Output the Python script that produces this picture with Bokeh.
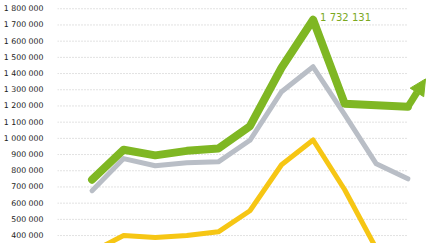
from bokeh.plotting import figure
from bokeh.models import ColumnDataSource, Range1d, FixedTicker, Arrow, NormalHead, Label
from bokeh.embed import file_html
from bokeh.resources import INLINE

# ---- data ----
periods = list(range(11))
green = [745000, 930000, 895000, 923000, 938000, 1075000, 1436000, 1732131, 1214000, 1205000, 1195000]
gray = [677000, 875000, 831000, 850000, 855000, 988000, 1288000, 1442000, 1146000, 843000, 750000]
yellow = [300000, 400000, 388000, 400000, 423000, 553000, 837000, 990000, 683000, 320000, 260000]
tick_values = [400000, 500000, 600000, 700000, 800000, 900000, 1000000, 1100000,
               1200000, 1300000, 1400000, 1500000, 1600000, 1700000, 1800000]
tick_labels = ["{:,}".format(v).replace(",", " ") for v in tick_values]
peak_label = "1 732 131"

GREEN = "#7fb723"
GRAY = "#b9bec6"
YELLOW = "#f6c614"

x_start, x_end = -1.094, 10.781
p = figure(width=432, height=243, output_backend="svg", toolbar_location=None,
           x_range=Range1d(x_start, x_end), y_range=Range1d(351000, 1851000),
           x_axis_location=None, min_border_left=52, min_border_right=0,
           min_border_top=0, min_border_bottom=0)
p.outline_line_color = None
p.xgrid.visible = False
p.ygrid.visible = False

# dotted grid lines
grid_src = ColumnDataSource(dict(x0=[x_start] * len(tick_values), x1=[9.97] * len(tick_values),
                                 y=tick_values))
p.segment(x0="x0", y0="y", x1="x1", y1="y", source=grid_src,
          line_color="#c4c4c4", line_width=1, line_dash="1 2")

src = ColumnDataSource(dict(x=periods, green=green, gray=gray, yellow=yellow))
p.line("x", "yellow", source=src, line_color=YELLOW, line_width=5, line_join="round", line_cap="round")
p.line("x", "gray", source=src, line_color=GRAY, line_width=5, line_join="round", line_cap="round")
p.line("x", "green", source=src, line_color=GREEN, line_width=8, line_join="round", line_cap="round")

# arrow continuing the green line
last = periods[-1]
p.add_layout(Arrow(x_start=last, y_start=green[-1], x_end=last + 0.56, y_end=green[-1] + 172000,
                   line_color=GREEN, line_width=7,
                   end=NormalHead(size=16, fill_color=GREEN, line_color=GREEN, line_width=1)))

peak_i = green.index(max(green))
p.add_layout(Label(x=periods[peak_i], y=green[peak_i], text=peak_label, x_offset=7, y_offset=2,
                   text_color="#7ba91f", text_font="DejaVu Sans", text_font_size="10px",
                   text_baseline="middle"))

ax = p.yaxis[0]
ax.ticker = FixedTicker(ticks=tick_values)
ax.major_label_overrides = {v: s for v, s in zip(tick_values, tick_labels)}
ax.axis_line_color = None
ax.major_tick_line_color = None
ax.minor_tick_line_color = None
ax.major_label_standoff = 8
ax.major_label_text_font = "DejaVu Sans"
ax.major_label_text_font_size = "7.8px"
ax.major_label_text_color = "#222222"

open("out.html", "w").write(file_html(p, INLINE))
